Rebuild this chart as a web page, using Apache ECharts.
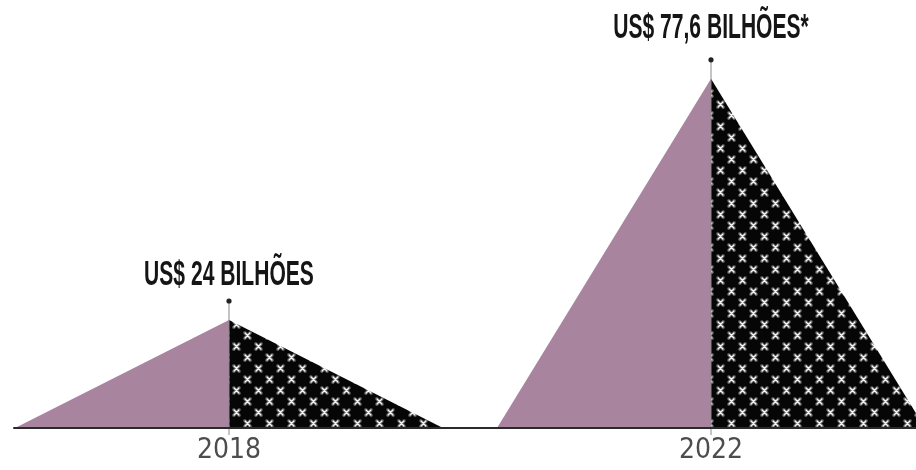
<!DOCTYPE html>
<html>
<head>
<meta charset="utf-8">
<script src="https://cdn.jsdelivr.net/npm/echarts@6/dist/echarts.min.js"></script>
<style>html,body{margin:0;padding:0;background:#fff;}#c{width:916px;height:470px;}</style>
</head>
<body>
<div id="c"></div>
<script>
const categories = [2018, 2022];
const values = [24, 77.6];
const valueLabels = ['US$ 24 BILHÕES', 'US$ 77,6 BILHÕES*'];
const tickLabels = ['2018', '2022'];

function makePattern() {
  const c = document.createElement('canvas');
  c.width = 22; c.height = 22;
  const g = c.getContext('2d');
  g.fillStyle = '#060606';
  g.fillRect(0, 0, 22, 22);
  const marks = [[5.5, 5.5], [16.5, 16.5]];
  marks.forEach(([mx, my]) => {
    g.lineCap = 'round';
    g.strokeStyle = 'rgba(150,150,150,0.55)';
    g.lineWidth = 3.4;
    g.beginPath();
    g.moveTo(mx - 2.7, my - 2.7); g.lineTo(mx + 2.7, my + 2.7);
    g.moveTo(mx + 2.7, my - 2.7); g.lineTo(mx - 2.7, my + 2.7);
    g.stroke();
    g.strokeStyle = '#f4f4f4';
    g.lineWidth = 1.4;
    g.beginPath();
    g.moveTo(mx - 2.4, my - 2.4); g.lineTo(mx + 2.4, my + 2.4);
    g.moveTo(mx + 2.4, my - 2.4); g.lineTo(mx - 2.4, my + 2.4);
    g.stroke();
  });
  return c;
}
const patternCanvas = makePattern();

const chart = echarts.init(document.getElementById('c'), null, {renderer: 'canvas'});
const PX_PER_YEAR = 120.5;
const HALF_W = 214;

chart.setOption({
  animation: false,
  grid: {left: 14, right: 0, top: 23, bottom: 42, containLabel: false},
  xAxis: {
    type: 'value',
    min: categories[0] - 215 / PX_PER_YEAR,
    max: categories[1] + 205 / PX_PER_YEAR,
    z: 5,
    splitLine: {show: false},
    axisLine: {show: true, lineStyle: {color: '#2a2a2a', width: 2}},
    axisTick: {show: false},
    axisLabel: {
      customValues: categories,
      formatter: v => tickLabels[categories.indexOf(v)] || '',
      color: '#4d4d4d',
      fontFamily: '"DejaVu Sans Condensed", "Liberation Sans", sans-serif',
      fontSize: 28,
      margin: 9
    }
  },
  yAxis: {type: 'value', min: 0, max: 90, show: false},
  series: [{
    type: 'custom',
    data: categories.map((c, i) => [c, values[i], i]),
    renderItem: function (params, api) {
      const x = api.value(0), v = api.value(1), idx = api.value(2);
      const top = api.coord([x, v]);
      const base = api.coord([x, 0]);
      const dotY = top[1] - 19;
      const gap = idx === 0 ? 8 : 14;
      return {
        type: 'group',
        children: [
          {type: 'polygon', shape: {points: [[base[0] - HALF_W, base[1]], top, base]},
           style: {fill: '#a8849f'}},
          {type: 'polygon', shape: {points: [top, [base[0] + HALF_W, base[1]], base]},
           style: {fill: {image: patternCanvas, repeat: 'repeat'}}},
          {type: 'line', shape: {x1: top[0], y1: dotY, x2: top[0], y2: base[1] + 7},
           style: {stroke: '#8a8a8a', lineWidth: 1}},
          {type: 'circle', shape: {cx: top[0], cy: dotY, r: 2.6}, style: {fill: '#222'}},
          {type: 'text', x: top[0], y: dotY - gap, scaleX: 0.68, scaleY: 1.12,
           style: {text: valueLabels[idx], fill: '#151515', align: 'center', verticalAlign: 'bottom',
                   font: 'bold 31px "Liberation Sans", Arial, sans-serif'}}
        ]
      };
    }
  }]
});
</script>
</body>
</html>
